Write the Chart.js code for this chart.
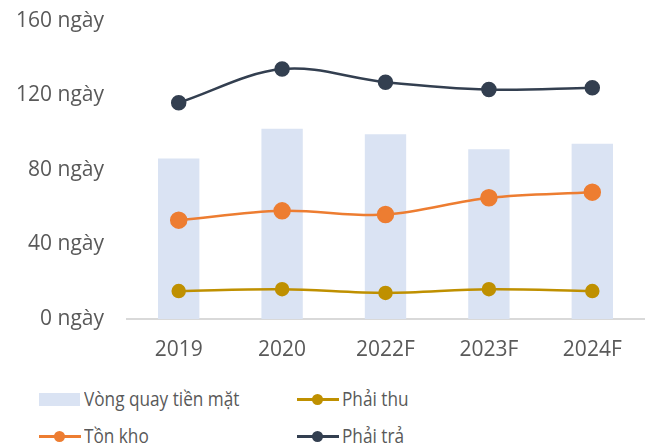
<!DOCTYPE html>
<html>
<head>
<meta charset="utf-8">
<script src="https://cdn.jsdelivr.net/npm/chart.js@4.4.1/dist/chart.umd.min.js"></script>
<style>
  html, body { margin: 0; padding: 0; background: #ffffff; }
  body { width: 654px; height: 448px; position: relative; overflow: hidden; font-family: "Open Sans", "Noto Sans", sans-serif; }
  #wrap { position: absolute; left: 0; top: -15px; width: 654px; height: 385px; }
  .leg { position: absolute; color: #595959; font-size: 20px; line-height: 24px; white-space: nowrap; }
  .leg span.t { position: absolute; left: 45px; top: 0; display: inline-block; transform: scaleX(0.86); transform-origin: left center; }
  .box { position: absolute; left: 0; top: 6px; width: 41px; height: 13px; }
  .ln { position: absolute; left: 0; top: 10.5px; width: 42px; height: 3px; }
  .dot { position: absolute; left: 15px; top: 7px; width: 11px; height: 11px; border-radius: 50%; }
</style>
</head>
<body>
<div id="wrap"><canvas id="c" width="654" height="385"></canvas></div>
<div id="legend"></div>
<script>
const categories = ["2019", "2020", "2022F", "2023F", "2024F"];
const cashCycle = [86, 102, 99, 91, 94];      // Vòng quay tiền mặt
const receivables = [15, 16, 14, 16, 15];     // Phải thu
const inventory = [53, 58, 56, 65, 68];       // Tồn kho
const payables = [116, 134, 127, 123, 124];   // Phải trả
const yTicks = [0, 40, 80, 120, 160];
const unit = " ngày";
const seriesNames = ["Vòng quay tiền mặt", "Phải thu", "Tồn kho", "Phải trả"];
const colors = { cash: "#dae3f3", rec: "#bf9000", inv: "#ed7d31", pay: "#333f50" };

const ctx = document.getElementById("c").getContext("2d");
new Chart(ctx, {
  data: {
    labels: categories,
    datasets: [
      { type: "bar", label: seriesNames[0], data: cashCycle, backgroundColor: colors.cash,
        barPercentage: 0.4, categoryPercentage: 1.0, order: 4 },
      { type: "line", label: seriesNames[1], data: receivables, borderColor: colors.rec, backgroundColor: colors.rec,
        borderWidth: 2.5, pointRadius: 6, pointHoverRadius: 6, tension: 0.35, order: 3 },
      { type: "line", label: seriesNames[2], data: inventory, borderColor: colors.inv, backgroundColor: colors.inv,
        borderWidth: 2.5, pointRadius: 7.5, pointHoverRadius: 7.5, tension: 0.35, order: 2 },
      { type: "line", label: seriesNames[3], data: payables, borderColor: colors.pay, backgroundColor: colors.pay,
        borderWidth: 2.5, pointRadius: 6.5, pointHoverRadius: 6.5, tension: 0.35, order: 1 }
    ]
  },
  options: {
    responsive: false,
    animation: false,
    layout: { padding: { top: 4, right: 7, bottom: 0, left: 0 } },
    plugins: { legend: { display: false }, tooltip: { enabled: false } },
    scales: {
      x: {
        grid: { display: false, drawTicks: false },
        border: { display: true, color: "#d9d9d9", width: 2 },
        ticks: { color: "#595959", font: { family: "'Open Sans'", size: 21 }, padding: 18 },
        afterFit: (s) => { s.height = 51; }
      },
      y: {
        min: 0, max: 160,
        afterBuildTicks: (s) => { s.ticks = yTicks.map(v => ({ value: v })); },
        grid: { display: false, drawTicks: false },
        border: { display: false },
        ticks: { color: "#595959", font: { family: "'Open Sans'", size: 21 }, padding: 23,
          callback: (v) => v + unit },
        afterFit: (s) => { s.width = 127; }
      }
    }
  }
});

// HTML legend (2 x 2 grid)
const legendItems = [
  { name: seriesNames[0], kind: "box", color: colors.cash, x: 39, y: 387 },
  { name: seriesNames[1], kind: "line", color: colors.rec, x: 297, y: 387 },
  { name: seriesNames[2], kind: "line", color: colors.inv, x: 39, y: 424 },
  { name: seriesNames[3], kind: "line", color: colors.pay, x: 297, y: 424 }
];
const legend = document.getElementById("legend");
legendItems.forEach(it => {
  const d = document.createElement("div");
  d.className = "leg";
  d.style.left = it.x + "px";
  d.style.top = it.y + "px";
  if (it.kind === "box") {
    d.innerHTML = '<div class="box" style="background:' + it.color + '"></div>';
  } else {
    d.innerHTML = '<div class="ln" style="background:' + it.color + '"></div><div class="dot" style="background:' + it.color + '"></div>';
  }
  const t = document.createElement("span");
  t.className = "t";
  t.textContent = it.name;
  d.appendChild(t);
  legend.appendChild(d);
});
</script>
</body>
</html>
